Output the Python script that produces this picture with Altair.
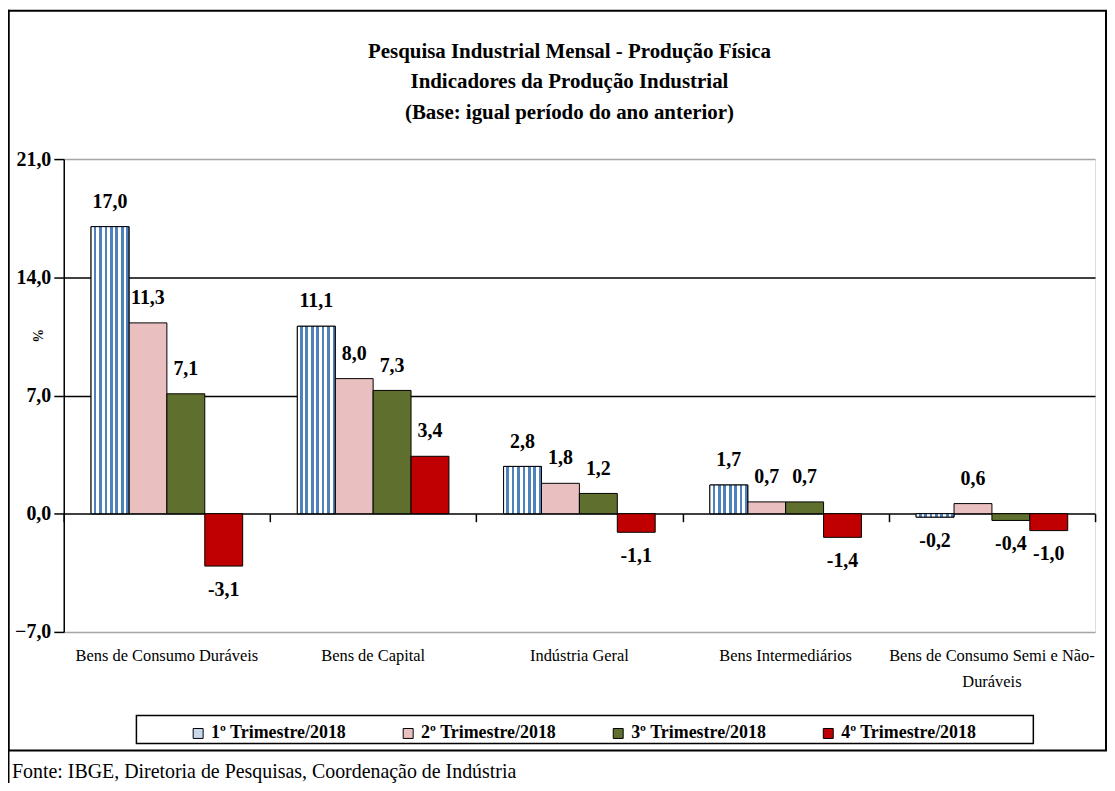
import altair as alt
import pandas as pd

categories = ["Bens de Consumo Duráveis", "Bens de Capital", "Indústria Geral",
              "Bens Intermediários", "Bens de Consumo Semi e Não-Duráveis"]
series = ["1º Trimestre/2018", "2º Trimestre/2018", "3º Trimestre/2018", "4º Trimestre/2018"]
q1 = [17.0, 11.1, 2.8, 1.7, -0.2]
q2 = [11.3, 8.0, 1.8, 0.7, 0.6]
q3 = [7.1, 7.3, 1.2, 0.7, -0.4]
q4 = [-3.1, 3.4, -1.1, -1.4, -1.0]
y_ticks = [-7, 0, 7, 14, 21]
title_lines = ["Pesquisa Industrial Mensal - Produção Física",
               "Indicadores da Produção Industrial",
               "(Base: igual período do ano anterior)"]
source_note = "Fonte: IBGE, Diretoria de Pesquisas, Coordenação de Indústria"

rows = []
for s, vals in zip(series, [q1, q2, q3, q4]):
    for c, v in zip(categories, vals):
        rows.append({"cat": c, "series": s, "value": v,
                     "label": f"{v:.1f}".replace(".", ",")})
df = pd.DataFrame(rows)

FONT = "Liberation Serif"
W, H = 1036, 475


def xscale():
    return alt.Scale(type="band", domain=categories, paddingInner=0.265, paddingOuter=0.1325)


def xoff():
    return alt.XOffset("series:N", sort=series,
                       scale=alt.Scale(type="band", domain=series, paddingInner=0, paddingOuter=0))


yscale = alt.Scale(domain=[-7, 21], nice=False, zero=False)

base = alt.Chart(df)

bars = base.mark_bar(stroke="black", strokeWidth=1).encode(
    x=alt.X("cat:N", sort=categories, scale=xscale(), title=None,
            axis=alt.Axis(orient="bottom", ticks=False, domain=False, labelAngle=0,
                          labelFont=FONT, labelFontSize=16.5, labelColor="black",
                          labelPadding=16, labelLineHeight=26, labelLimit=300,
                          labelExpr="datum.value == 'Bens de Consumo Semi e Não-Duráveis' ? ['Bens de Consumo Semi e Não-', 'Duráveis'] : datum.value")),
    xOffset=xoff(),
    y=alt.Y("value:Q", scale=yscale, title="%",
            axis=alt.Axis(values=y_ticks, labelExpr="replace(format(datum.value, '.1f'), '.', ',')",
                          labelFont=FONT, labelFontSize=20, labelFontWeight="bold", labelColor="black",
                          labelPadding=3, tickSize=10, tickColor="black", domainColor="black",
                          domainWidth=1.5, tickWidth=1.5,
                          grid=True, gridWidth=1.5,
                          gridColor={"condition": {"test": "datum.value == 21 || datum.value == -7", "value": "#A6A6A6"}, "value": "black"},
                          titleFont=FONT, titleFontSize=14, titleFontWeight="bold", titleColor="black",
                          titleX=-18, titleY=177)),
    color=alt.Color("series:N", sort=series,
                    scale=alt.Scale(domain=series, range=["#C9D8EC", "#E9C0BF", "#5F6F2D", "#C00000"]),
                    legend=alt.Legend(title=None, orient="none", direction="horizontal",
                                      legendX=126, legendY=568, symbolType="square", symbolSize=100,
                                      symbolStrokeColor="black", symbolStrokeWidth=1,
                                      labelFont=FONT, labelFontSize=18, labelFontWeight="bold",
                                      labelColor="black", columnPadding=53, labelOffset=4, padding=0,
                                      labelLimit=300)),
)

stops = []
n = 7
for k in range(n):
    a = k / n
    b = (k + 0.5) / n
    c = (k + 1) / n
    stops += [alt.GradientStop(offset=a, color="#FFFFFF"), alt.GradientStop(offset=b, color="#FFFFFF"),
              alt.GradientStop(offset=b, color="#4F81BD"), alt.GradientStop(offset=c, color="#4F81BD")]
stripes = base.transform_filter(alt.datum.series == series[0]).mark_bar(
    fill=alt.Gradient(gradient="linear", x1=0, x2=1, y1=0, y2=0, stops=stops),
    stroke="black", strokeWidth=1).encode(
    x=alt.X("cat:N", sort=categories, scale=xscale(), axis=None),
    xOffset=xoff(),
    y=alt.Y("value:Q", scale=yscale),
)

pos_text = base.transform_filter(alt.datum.value >= 0).mark_text(
    font=FONT, fontSize=20, fontWeight="bold", color="black", baseline="middle", dy=-25).encode(
    x=alt.X("cat:N", sort=categories, scale=xscale(), axis=None),
    xOffset=xoff(),
    y=alt.Y("value:Q", scale=yscale),
    text="label:N",
)
neg_text = base.transform_filter(alt.datum.value < 0).mark_text(
    font=FONT, fontSize=20, fontWeight="bold", color="black", baseline="middle", dy=24).encode(
    x=alt.X("cat:N", sort=categories, scale=xscale(), axis=None),
    xOffset=xoff(),
    y=alt.Y("value:Q", scale=yscale),
    text="label:N",
)

# category-boundary tick marks on the zero line
zero_ticks = alt.Chart(pd.DataFrame({"cat": categories, "v": [0] * len(categories)})).mark_point(opacity=0).encode(
    x=alt.X("cat:N", sort=categories, title=None,
            scale=alt.Scale(type="band", domain=categories, paddingInner=0, paddingOuter=0),
            axis=alt.Axis(orient="bottom", offset=-118.75, labels=False, domain=False, ticks=True,
                          tickBand="extent", tickSize=8, tickColor="black", tickWidth=1.5, grid=False)),
    y=alt.Y("v:Q", scale=yscale),
)

one = pd.DataFrame({"k": [0]})
frame = alt.Chart(one).mark_rect(fill="white", fillOpacity=0, stroke="black", strokeWidth=2).encode(
    x=alt.value(-55.5), x2=alt.value(1047), y=alt.value(-149), y2=alt.value(594))
left_line = alt.Chart(one).mark_rule(stroke="black", strokeWidth=2).encode(
    x=alt.value(-55.5), y=alt.value(-150), y2=alt.value(632))
legend_box = alt.Chart(one).mark_rect(fill="white", stroke="black", strokeWidth=1.5).encode(
    x=alt.value(73), x2=alt.value(974), y=alt.value(559), y2=alt.value(587))
title = alt.Chart(one).mark_text(
    font=FONT, fontSize=21, fontWeight="bold", color="black", align="center", baseline="top",
    lineHeight=31).encode(x=alt.value(508), y=alt.value(-119), text=alt.value(title_lines))
footer = alt.Chart(pd.DataFrame({"t": [source_note]})).mark_text(
    font=FONT, fontSize=20, color="black", align="left", baseline="alphabetic").encode(
    x=alt.value(-52), y=alt.value(622), text="t:N")

chart = alt.layer(frame, left_line, legend_box, zero_ticks, bars, stripes, pos_text, neg_text,
                  title, footer).resolve_scale(x="independent", xOffset="independent").resolve_axis(
    x="independent").properties(
    width=W, height=H,
    autosize=alt.AutoSizeParams(type="none"),
    padding={"left": 56, "top": 150, "right": 12, "bottom": 150},
).configure_view(stroke="#A6A6A6", strokeWidth=2).configure(background="white")

chart.save("out.html", embed_options={"renderer": "svg", "actions": False})
